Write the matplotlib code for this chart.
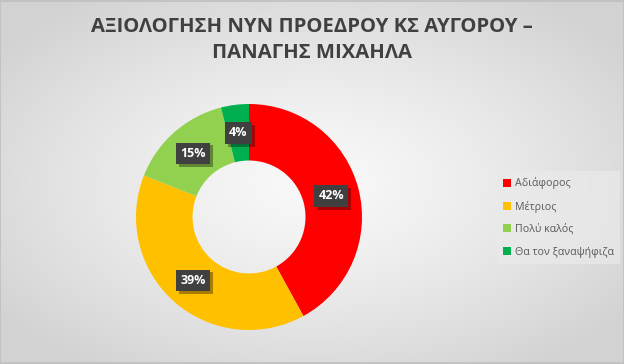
import numpy as np
import matplotlib
matplotlib.use("Agg")
import matplotlib.pyplot as plt
import matplotlib.patheffects as pe
from matplotlib.patches import Rectangle

plt.rcParams['font.family'] = ['Open Sans', 'DejaVu Sans']

title = "ΑΞΙΟΛΟΓΗΣΗ ΝΥΝ ΠΡΟΕΔΡΟΥ ΚΣ ΑΥΓΟΡΟΥ –\nΠΑΝΑΓΗΣ ΜΙΧΑΗΛΑ"
categories = ["Αδιάφορος", "Μέτριος", "Πολύ καλός", "Θα τον ξαναψήφιζα"]
values = [42, 39, 15, 4]
colors = ["#FF0000", "#FFC000", "#92D050", "#00B050"]

W, H = 624, 364
fig = plt.figure(figsize=(W / 100, H / 100), dpi=100)

# background radial gradient
bg = fig.add_axes([0, 0, 1, 1], zorder=0)
yy, xx = np.mgrid[0:H, 0:W]
d = np.sqrt(((xx - W * 0.5) / (W * 0.62)) ** 2 + ((yy - H * 0.5) / (H * 0.62)) ** 2)
d = np.clip(d, 0, 1)
c = 0.975 - 0.15 * d ** 1.3
img = np.dstack([c, c, c])
bg.imshow(img, extent=[0, 1, 0, 1], aspect='auto', origin='upper')
bg.set_xlim(0, 1)
bg.set_ylim(0, 1)
bg.axis('off')
bg.add_patch(Rectangle((0.0008, 0.0014), 0.9984, 0.997, fill=False, ec="#bfbfbf", lw=1.2,
                       transform=bg.transAxes))

fig.text(0.5, 1 - 40 / H, title, ha='center', va='center', fontsize=14.6,
         fontweight='bold', color='#404040', linespacing=1.38, zorder=5)

# donut
cx, cy, R = 249, 217, 113
ax = fig.add_axes([(cx - R) / W, (H - cy - R) / H, 2 * R / W, 2 * R / H], zorder=2)
wedges, _ = ax.pie(values, colors=colors, startangle=90, counterclock=False, radius=1,
                   wedgeprops=dict(width=0.5, edgecolor='none'))
ax.set_xlim(-1, 1)
ax.set_ylim(-1, 1)
ax.set_aspect('equal')
ax.axis('off')

total = sum(values)
start = 90.0
for v in values:
    ang = np.deg2rad(start - v / total * 360 / 2)
    start -= v / total * 360
    r = 0.75
    t = ax.text(r * np.cos(ang), r * np.sin(ang), f"{v}%", ha='center', va='center',
                color='white', fontsize=9, fontweight='bold', zorder=5,
                bbox=dict(boxstyle='square,pad=0.35', fc='#404040', ec='none'))
    t.get_bbox_patch().set_path_effects([
        pe.SimplePatchShadow(offset=(2, -2), shadow_rgbFace='black', alpha=0.35),
        pe.Normal()])

# legend
handles = [Rectangle((0, 0), 1, 1, fc=col, ec='none') for col in colors]
leg = fig.legend(handles, categories, loc='upper left',
                 bbox_to_anchor=(497 / W, 1 - 171 / H), frameon=True,
                 fontsize=7.7, handlelength=0.75, handleheight=0.75, handletextpad=0.3,
                 labelspacing=1.05, borderpad=0.6, fancybox=False, borderaxespad=0)
leg.get_frame().set_facecolor('#eaeaea')
leg.get_frame().set_edgecolor('none')
leg.get_frame().set_alpha(0.7)
for txt in leg.get_texts():
    txt.set_color('#595959')
leg.set_zorder(6)

fig.savefig("out.png", dpi=100)
